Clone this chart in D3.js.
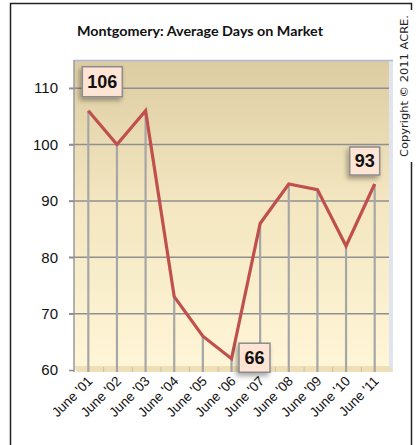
<!DOCTYPE html>
<html>
<head>
<meta charset="utf-8">
<title>Montgomery: Average Days on Market</title>
<script src="https://cdn.jsdelivr.net/npm/d3@7"></script>
<style>
  body { margin: 0; padding: 0; background: #fff; }
  svg { display: block; }
</style>
</head>
<body>
<div id="chart"></div>
<script>
// data
const months = ["June '01", "June '02", "June '03", "June '04", "June '05", "June '06",
                "June '07", "June '08", "June '09", "June '10", "June '11"];
const days = [106, 100, 106, 73, 66, 62, 86, 93, 92, 82, 93];
const yTicks = [60, 70, 80, 90, 100, 110];
// callouts as typed on the original chart
const callouts = [
  { month: "June '01", text: "106", dx: 14, dy: -29, w: 40, h: 30 },
  { month: "June '06", text: "66", dx: 23, dy: -1, w: 31, h: 29 },
  { month: "June '11", text: "93", dx: -10, dy: -23, w: 30, h: 28 }
];

const W = 420, H = 445;
const plot = { left: 74, right: 389, top: 60, bottom: 370 };

const svg = d3.select("#chart").append("svg")
  .attr("width", W).attr("height", H);

const defs = svg.append("defs");
const grad = defs.append("linearGradient").attr("id", "bg")
  .attr("x1", 0).attr("y1", 0).attr("x2", 0).attr("y2", 1);
grad.append("stop").attr("offset", "0%").attr("stop-color", "#dccca2");
grad.append("stop").attr("offset", "45%").attr("stop-color", "#f3e6c0");
grad.append("stop").attr("offset", "100%").attr("stop-color", "#fff6d8");

const shadow = defs.append("filter").attr("id", "shadow")
  .attr("x", "-40%").attr("y", "-40%").attr("width", "180%").attr("height", "180%");
shadow.append("feDropShadow").attr("dx", -2).attr("dy", 3).attr("stdDeviation", 2.5)
  .attr("flood-color", "#000").attr("flood-opacity", 0.35);

// outer frame
svg.append("rect")
  .attr("x", 10.5).attr("y", 3.5).attr("width", 401).attr("height", 460)
  .attr("fill", "none").attr("stroke", "#222").attr("stroke-width", 1.5);

const x = d3.scaleBand().domain(months).range([plot.left, plot.right]);
const y = d3.scaleLinear().domain([60, 115]).range([plot.bottom, plot.top]);
const cx = d => x(d) + x.bandwidth() / 2;

// plot background + 3d walls
svg.append("rect")
  .attr("x", plot.left).attr("y", plot.top)
  .attr("width", plot.right - plot.left).attr("height", plot.bottom - plot.top)
  .attr("fill", "url(#bg)");
svg.append("rect")
  .attr("x", plot.right).attr("y", plot.top)
  .attr("width", 4).attr("height", plot.bottom - plot.top + 2)
  .attr("fill", "#dfe4ee");
svg.append("line")
  .attr("x1", plot.left).attr("x2", plot.right + 4)
  .attr("y1", plot.top + 0.5).attr("y2", plot.top + 0.5)
  .attr("stroke", "#a9b8dc").attr("stroke-width", 1.5);
svg.append("path")
  .attr("d", `M${plot.left},${plot.bottom - 4} L${plot.right},${plot.bottom - 4} L${plot.right + 4},${plot.bottom + 2} L${plot.left + 3},${plot.bottom + 2} Z`)
  .attr("fill", "#efdfb6");

// horizontal gridlines
svg.append("g").selectAll("line").data(yTicks.slice(1)).join("line")
  .attr("x1", plot.left - 5).attr("x2", plot.right)
  .attr("y1", d => y(d)).attr("y2", d => y(d))
  .attr("stroke", "#8f8f8f").attr("stroke-width", 1.5);

// y axis
const yAxis = svg.append("g")
  .attr("transform", `translate(${plot.left},0)`)
  .call(d3.axisLeft(y).tickValues(yTicks).tickSize(5).tickPadding(11));
yAxis.select(".domain").attr("stroke", "#9a9a9a").attr("stroke-width", 1.5)
  .attr("d", `M0,${plot.top}V${plot.bottom + 2}`);
yAxis.selectAll(".tick line").attr("stroke", "#8f8f8f").attr("stroke-width", 1.5);
yAxis.selectAll(".tick text")
  .attr("font-family", "Liberation Sans, Arial, sans-serif")
  .attr("font-size", 15).attr("fill", "#111");

// floor ticks between categories
svg.append("g").selectAll("line").data(months.slice(1)).join("line")
  .attr("x1", d => x(d) + 1).attr("x2", d => x(d) + 1)
  .attr("y1", plot.bottom - 3).attr("y2", plot.bottom + 2)
  .attr("stroke", "#c8c0a8").attr("stroke-width", 1);

// drop lines
svg.append("g").selectAll("line").data(months).join("line")
  .attr("x1", d => cx(d)).attr("x2", d => cx(d))
  .attr("y1", (d, i) => y(days[i])).attr("y2", plot.bottom + 2)
  .attr("stroke", "#a6a6a6").attr("stroke-width", 2.2);

// x labels
svg.append("g").selectAll("text").data(months).join("text")
  .attr("transform", d => `translate(${cx(d) + 5},${plot.bottom + 12}) rotate(-45)`)
  .attr("text-anchor", "end")
  .attr("font-family", "Liberation Sans, Arial, sans-serif")
  .attr("font-size", 13.5).attr("fill", "#111")
  .text(d => d);

// line
const line = d3.line().x((d, i) => cx(months[i])).y(d => y(d));
svg.append("path").datum(days)
  .attr("d", line)
  .attr("fill", "none").attr("stroke", "#c0504d").attr("stroke-width", 3.2)
  .attr("stroke-linejoin", "miter");

// callouts
const cg = svg.append("g").selectAll("g").data(callouts).join("g")
  .attr("transform", d => {
    const i = months.indexOf(d.month);
    return `translate(${cx(d.month) + d.dx},${y(days[i]) + d.dy})`;
  });
cg.append("rect")
  .attr("x", d => -d.w / 2).attr("y", d => -d.h / 2)
  .attr("width", d => d.w).attr("height", d => d.h)
  .attr("fill", "#fde4d4").attr("stroke", "#8c8c8c").attr("stroke-width", 1.5)
  .attr("filter", "url(#shadow)");
cg.append("text")
  .attr("text-anchor", "middle").attr("dy", "0.36em")
  .attr("font-family", "Liberation Sans, Arial, sans-serif")
  .attr("font-weight", "bold").attr("font-size", 18).attr("fill", "#111")
  .text(d => d.text);

// title
svg.append("text")
  .attr("x", 200).attr("y", 36)
  .attr("text-anchor", "middle")
  .attr("font-family", "Lato, Liberation Sans, sans-serif")
  .attr("font-weight", "bold").attr("font-size", 13).attr("fill", "#111")
  .attr("textLength", 246).attr("lengthAdjust", "spacingAndGlyphs")
  .text("Montgomery: Average Days on Market");

// copyright, breaking the right frame
svg.append("rect")
  .attr("x", 396).attr("y", 10).attr("width", 24).attr("height", 152)
  .attr("fill", "#fff");
svg.append("text")
  .attr("transform", "translate(408,157) rotate(-90)")
  .attr("font-family", "DejaVu Sans, sans-serif")
  .attr("font-size", 11).attr("fill", "#222")
  .attr("textLength", 142).attr("lengthAdjust", "spacingAndGlyphs")
  .text("Copyright © 2011 ACRE.");
</script>
</body>
</html>
